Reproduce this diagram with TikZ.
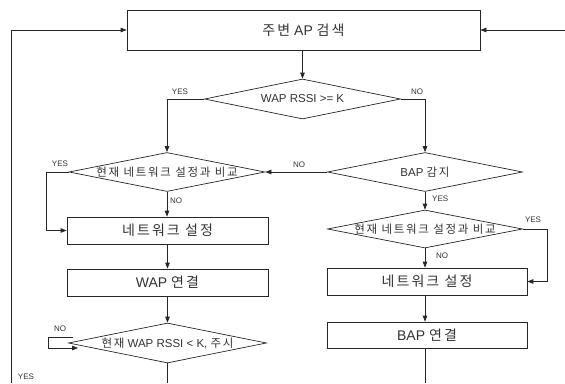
\documentclass[tikz,border=0pt]{standalone}
\usepackage{fontspec}
\setmainfont{Liberation Sans}
\newfontfamily\kr[LetterSpace=15]{Noto Sans CJK KR}
\usetikzlibrary{shapes.geometric,arrows.meta,calc}
\begin{document}
\begin{tikzpicture}[x=1pt,y=-1pt,
  ln/.style={draw=black!85,line width=0.7pt},
  arr/.style={ln,-{Triangle[length=6pt,width=4.5pt]}},
  pbox/.style={ln,rectangle,inner sep=0pt,font=\fontsize{14}{16}\selectfont,text=black!80},
  dia/.style={ln,diamond,inner sep=0pt,font=\fontsize{11.5}{13}\selectfont,text=black!80},
  lab/.style={font=\fontsize{8}{9}\selectfont,text=black!80,inner sep=0pt}]

\useasboundingbox (0,0) rectangle (565,383);

% nodes
\node[pbox,minimum width=353pt,minimum height=40pt] (search) at (303.5,30) {{\kr 주변} AP {\kr 검색}};
\node[dia,minimum width=196pt,minimum height=40pt] (d1) at (302.5,99) {\makebox[0pt]{WAP RSSI >= K}};
\node[dia,minimum width=196pt,minimum height=39pt] (d2) at (167,172) {\makebox[0pt]{\kr 현재 네트워크 설정과 비교}};
\node[dia,minimum width=195pt,minimum height=39pt] (d3) at (425,172) {\makebox[0pt]{BAP {\kr 감지}}};
\node[dia,minimum width=195pt,minimum height=38pt] (d4) at (425,229) {\makebox[0pt]{\kr 현재 네트워크 설정과 비교}};
\node[pbox,minimum width=201pt,minimum height=27pt] (b1) at (167.5,230.5) {\kr 네트워크 설정};
\node[pbox,minimum width=201pt,minimum height=27pt] (b2) at (167.5,282.5) {WAP {\kr 연결}};
\node[dia,minimum width=198pt,minimum height=40pt] (d5) at (167.5,343) {\makebox[0pt]{{\kr 현재} WAP RSSI < K, {\kr 주시}}};
\node[pbox,minimum width=200pt,minimum height=27pt] (b3) at (427,281.5) {\kr 네트워크 설정};
\node[pbox,minimum width=200pt,minimum height=26pt] (b4) at (427,335) {BAP {\kr 연결}};

% free ends
\coordinate (Lb) at (11,383);
\coordinate (Rt) at (565,30);
\coordinate (Mb) at (167.5,383);

% connectors
\draw[arr] (Lb) |- (search.west);
\draw[arr] (Rt) -- (search.east);
\draw[arr] (search.south -| d1.north) -- (d1.north);
\draw[arr] (d1.west) -| (d2.north);
\draw[arr] (d1.east) -| (d3.north);
\draw[arr] (d3.west) -- (d2.east);
\draw[arr] (d2.west) -- ++(-22,0) |- (b1.west);
\draw[arr] (d2.south) -- (d2.south |- b1.north);
\draw[arr] (b1.south) -- (b2.north);
\draw[arr] (b2.south) -- (d5.north);
\draw[arr] ($(d5.west)+(5,-6)$) -- ++(-25,0) |- ($(d5.west)+(10,5)$);
\draw[ln] (d5.south) -- (Mb);
\draw[arr] (d3.south) -- (d4.north);
\draw[arr] (d4.east) -- ++(24,0) |- (b3.east);
\draw[arr] (d4.south) -- (d4.south |- b3.north);
\draw[arr] (d4.south |- b3.south) -- (d4.south |- b4.north);
\coordinate (Rb) at (d4.south |- 0,383);
\draw[ln] (d4.south |- b4.south) -- (Rb);

% labels
\node[lab] (l1) at (180,92) {YES};
\node[lab] (l2) at (417,92) {NO};
\node[lab] (l3) at (299,165) {NO};
\node[lab] (l4) at (60,164) {YES};
\node[lab,anchor=west] (l5) at (170,201) {NO};
\node[lab] (l6) at (60,329) {NO};
\node[lab] (l7) at (26,377) {YES};
\node[lab,anchor=west] (l8) at (432,199) {YES};
\node[lab] (l9) at (533,220) {YES};
\node[lab,anchor=west] (l10) at (436,256) {NO};
\end{tikzpicture}
\end{document}
